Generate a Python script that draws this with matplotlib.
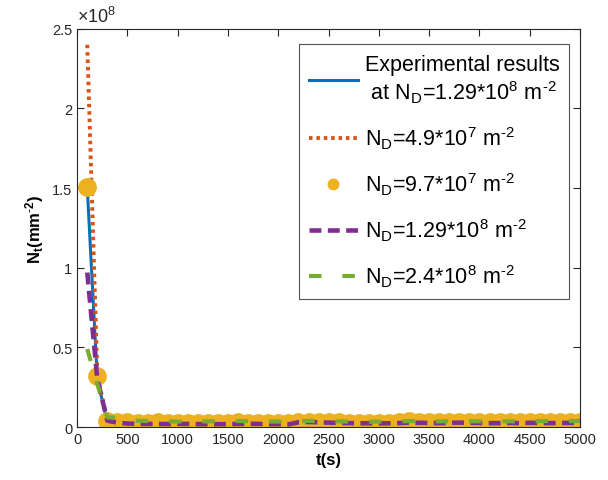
"""
Nt versus time, simulated vs experimental dislocation densities
"""

import numpy as np
import matplotlib
matplotlib.use('Agg')
import matplotlib.pyplot as plt
from matplotlib.ticker import FuncFormatter

plt.rcParams['font.family'] = ['Liberation Sans', 'DejaVu Sans']
plt.rcParams['mathtext.fontset'] = 'custom'
plt.rcParams['mathtext.rm'] = 'Liberation Sans'
plt.rcParams['mathtext.it'] = 'Liberation Sans'
plt.rcParams['mathtext.bf'] = 'Liberation Sans:bold'

# time (s)
t = [100, 200, 300, 400, 500, 600, 700, 800, 900, 1000,
     1100, 1200, 1300, 1400, 1500, 1600, 1700, 1800, 1900, 2000,
     2100, 2200, 2300, 2400, 2500, 2600, 2700, 2800, 2900, 3000,
     3100, 3200, 3300, 3400, 3500, 3600, 3700, 3800, 3900, 4000,
     4100, 4200, 4300, 4400, 4500, 4600, 4700, 4800, 4900, 5000]

# Nt in units of 1e8 mm^-2
exp_129 = [1.50, 0.30, 0.03, 0.026, 0.025, 0.025, 0.025, 0.025, 0.025, 0.025,
           0.025, 0.025, 0.025, 0.025, 0.025, 0.025, 0.025, 0.025, 0.025, 0.025,
           0.025, 0.025, 0.025, 0.025, 0.025, 0.025, 0.025, 0.025, 0.025, 0.025,
           0.025, 0.025, 0.025, 0.025, 0.025, 0.025, 0.025, 0.025, 0.025, 0.025,
           0.025, 0.025, 0.025, 0.025, 0.025, 0.025, 0.025, 0.025, 0.025, 0.025]
sim_49 = [2.40, 0.33, 0.03, 0.026, 0.025, 0.025, 0.025, 0.025, 0.025, 0.025,
          0.025, 0.025, 0.025, 0.025, 0.025, 0.025, 0.025, 0.025, 0.025, 0.025,
          0.025, 0.025, 0.025, 0.025, 0.025, 0.025, 0.025, 0.025, 0.025, 0.025,
          0.025, 0.025, 0.025, 0.025, 0.025, 0.025, 0.025, 0.025, 0.025, 0.025,
          0.025, 0.025, 0.025, 0.025, 0.025, 0.025, 0.025, 0.025, 0.025, 0.025]
sim_97 = [1.51, 0.32, 0.04, 0.035, 0.030, 0.028, 0.027, 0.030, 0.026, 0.025,
          0.026, 0.027, 0.026, 0.027, 0.028, 0.030, 0.028, 0.027, 0.026, 0.025,
          0.026, 0.033, 0.034, 0.032, 0.030, 0.029, 0.028, 0.027, 0.026, 0.026,
          0.027, 0.030, 0.036, 0.032, 0.031, 0.030, 0.031, 0.035, 0.032, 0.030,
          0.029, 0.030, 0.031, 0.030, 0.033, 0.031, 0.030, 0.031, 0.032, 0.030]
sim_129 = [0.97, 0.30, 0.04, 0.028, 0.022, 0.021, 0.020, 0.020, 0.019, 0.020,
           0.020, 0.019, 0.018, 0.018, 0.019, 0.020, 0.021, 0.020, 0.019, 0.018,
           0.017, 0.030, 0.032, 0.030, 0.028, 0.026, 0.025, 0.024, 0.024, 0.023,
           0.024, 0.025, 0.028, 0.027, 0.026, 0.025, 0.026, 0.028, 0.027, 0.026,
           0.025, 0.025, 0.026, 0.025, 0.027, 0.026, 0.025, 0.026, 0.026, 0.026]
sim_24 = [0.49, 0.27, 0.06, 0.060, 0.045, 0.040, 0.038, 0.037, 0.036, 0.035,
          0.035, 0.035, 0.036, 0.036, 0.037, 0.038, 0.037, 0.036, 0.035, 0.035,
          0.036, 0.038, 0.039, 0.038, 0.037, 0.036, 0.035, 0.035, 0.034, 0.034,
          0.035, 0.036, 0.038, 0.037, 0.036, 0.036, 0.037, 0.038, 0.037, 0.036,
          0.035, 0.036, 0.036, 0.036, 0.037, 0.037, 0.038, 0.038, 0.038, 0.038]

labels = ['Experimental results\n at N$_D$=1.29*10$^8$ m$^{\\text{-}2}$',
          'N$_D$=4.9*10$^7$ m$^{\\text{-}2}$',
          'N$_D$=9.7*10$^7$ m$^{\\text{-}2}$',
          'N$_D$=1.29*10$^8$ m$^{\\text{-}2}$',
          'N$_D$=2.4*10$^8$ m$^{\\text{-}2}$']

scale = 1e8
fig = plt.figure(figsize=(6.08, 4.81), dpi=100)
ax = fig.add_axes([0.127, 0.110, 0.827, 0.828])

ax.plot(t, np.array(exp_129) * scale, color='#0072BD', lw=2.2, label=labels[0])
ax.plot(t, np.array(sim_49) * scale, color='#D95319', lw=2.8, ls=(0, (0.9, 1.0)),
        label=labels[1])
ax.plot(t, np.array(sim_97) * scale, color='#EDB120', lw=0, marker='o', ms=12.5,
        mec='#EDB120', label=labels[2])
ax.plot(t, np.array(sim_129) * scale, color='#7E2F8E', lw=3.3, ls=(0, (2.6, 1.4)),
        label=labels[3])
ax.plot(t, np.array(sim_24) * scale, color='#77AC30', lw=3.0, ls=(0, (3.0, 5.0)),
        label=labels[4])

ax.set_xlim(0, 5000)
ax.set_ylim(0, 2.5e8)
ax.set_xticks(np.arange(0, 5001, 500))
ax.set_yticks(np.arange(0, 2.51e8, 0.5e8))
ax.yaxis.set_major_formatter(FuncFormatter(lambda v, p: '%g' % (v / scale)))
ax.text(0.0, 1.006, r'$\times 10^8$', transform=ax.transAxes, fontsize=13,
        color='#262626', ha='left', va='bottom')

ax.tick_params(direction='in', top=True, right=True, labelsize=10.5,
               colors='#262626', length=5)
for s in ax.spines.values():
    s.set_color('#262626')
    s.set_linewidth(0.8)

ax.set_xlabel('t(s)', fontsize=12, fontweight='bold')
ax.set_ylabel(r'$\mathbf{N_t(mm^{\text{-}2})}$', fontsize=12)

leg = ax.legend(loc='upper right', fontsize=15.5, frameon=True, fancybox=False,
                edgecolor='#262626', borderpad=0.45, labelspacing=0.9,
                handlelength=2.3, handletextpad=0.3, borderaxespad=0.0,
                markerscale=0.6, bbox_to_anchor=(0.978, 0.962))
leg.get_frame().set_linewidth(0.8)

plt.savefig('out.png', dpi=100)
